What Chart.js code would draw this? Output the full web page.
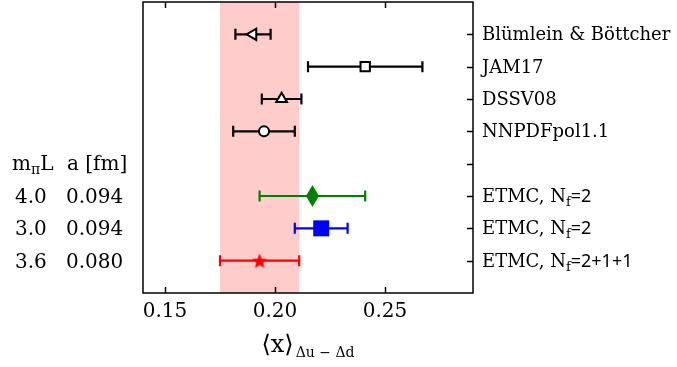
<!DOCTYPE html>
<html>
<head>
<meta charset="utf-8">
<script src="https://cdn.jsdelivr.net/npm/chart.js@4"></script>
<style>
  html, body { margin: 0; padding: 0; background: #fff; }
  #wrap { width: 677px; height: 367px; }
</style>
</head>
<body>
<div id="wrap"><canvas id="chart" width="677" height="367"></canvas></div>
<script>
// --- data ---
const rowLabels = ['Blümlein & Böttcher', 'JAM17', 'DSSV08', 'NNPDFpol1.1', '',
                   'ETMC, N_{f}^{=2}', 'ETMC, N_{f}^{=2}', 'ETMC, N_{f}^{=2+1+1}'];
const rowPos    = [1, 2, 3, 4, 6, 7, 8];
const rowNames  = ['Blümlein & Böttcher', 'JAM17', 'DSSV08', 'NNPDFpol1.1',
                   'ETMC Nf=2 (mpiL 4.0)', 'ETMC Nf=2 (mpiL 3.0)', 'ETMC Nf=2+1+1'];
const xValues   = [0.190, 0.241, 0.203, 0.195, 0.217, 0.221, 0.193];
const xErrors   = [0.008, 0.026, 0.009, 0.014, 0.024, 0.012, 0.018];
const xTicks    = [0.15, 0.20, 0.25];
const yTicks    = [1, 2, 3, 4, 5, 6, 7, 8];

// band = ETMC Nf=2+1+1 result
const bandLow  = 0.175;
const bandHigh = 0.211;

// lattice table on the left
const tableHead = ['m_{π}L', 'a [fm]'];
const mpiL      = ['4.0', '3.0', '3.6'];
const latA      = ['0.094', '0.094', '0.080'];

const FONT = '"DejaVu Serif", "Liberation Serif", serif';
const MATH = '"Noto Sans", "DejaVu Sans", sans-serif';

// --- custom marker images ---
function makeDiamond(w, h, color) {
    const c = document.createElement('canvas');
    c.width = w; c.height = h;
    const g = c.getContext('2d');
    g.fillStyle = color;
    g.beginPath();
    g.moveTo(w / 2, 0); g.lineTo(w, h / 2); g.lineTo(w / 2, h); g.lineTo(0, h / 2);
    g.closePath(); g.fill();
    return c;
}
function makeStar(size, color) {
    const c = document.createElement('canvas');
    c.width = size; c.height = size;
    const g = c.getContext('2d');
    const cx = size / 2, cy = size / 2 + 0.8, R = size / 2, r = R * 0.45;
    g.fillStyle = color;
    g.beginPath();
    for (let i = 0; i < 10; i++) {
        const ang = -Math.PI / 2 + i * Math.PI / 5;
        const rad = i % 2 === 0 ? R : r;
        g.lineTo(cx + rad * Math.cos(ang), cy + rad * Math.sin(ang));
    }
    g.closePath(); g.fill();
    return c;
}

const styles = [
    { color: '#000', style: 'triangle', rotation: -90, radius: 6.5, fill: '#fff', bw: 2 },
    { color: '#000', style: 'rect', rotation: 0, radius: 6.6, fill: '#fff', bw: 2 },
    { color: '#000', style: 'triangle', rotation: 0, radius: 6.2, fill: '#fff', bw: 2 },
    { color: '#000', style: 'circle', rotation: 0, radius: 5, fill: '#fff', bw: 2 },
    { color: '#008000', style: makeDiamond(13, 22, '#008000'), rotation: 0, radius: 8, fill: '#008000', bw: 0 },
    { color: '#0000ff', style: 'rect', rotation: 0, radius: 11.3, fill: '#0000ff', bw: 0 },
    { color: '#ff0000', style: makeStar(16, '#ff0000'), rotation: 0, radius: 8, fill: '#ff0000', bw: 0 },
];

const datasets = rowNames.map((name, i) => ({
    label: name,
    data: [{ x: xValues[i], y: rowPos[i], err: xErrors[i] }],
    pointStyle: styles[i].style,
    rotation: styles[i].rotation,
    pointRadius: styles[i].radius,
    pointBackgroundColor: styles[i].fill,
    pointBorderColor: styles[i].color,
    pointBorderWidth: styles[i].bw,
    errColor: styles[i].color,
}));

// text with _{sub} (subscript) and ^{...} (math-font) parts
function drawRich(ctx, str, x, y, size, subSize, subDrop) {
    const parts = [];
    const re = /([_^])\{([^}]*)\}/g;
    let last = 0, m;
    while ((m = re.exec(str)) !== null) {
        if (m.index > last) parts.push([str.slice(last, m.index), '']);
        parts.push([m[2], m[1]]);
        last = re.lastIndex;
    }
    if (last < str.length) parts.push([str.slice(last), '']);
    let cx = x;
    parts.forEach(([t, kind]) => {
        if (kind === '_') ctx.font = subSize + 'px ' + FONT;
        else if (kind === '^') ctx.font = size + 'px ' + MATH;
        else ctx.font = size + 'px ' + FONT;
        ctx.fillText(t, cx, kind === '_' ? y + subDrop : y);
        cx += ctx.measureText(t).width;
    });
}

const decor = {
    id: 'decor',
    beforeDatasetsDraw(chart) {
        const { ctx, chartArea: a, scales: { x, y } } = chart;
        ctx.save();
        // shaded band
        ctx.fillStyle = '#ffcccc';
        const b0 = x.getPixelForValue(bandLow), b1 = x.getPixelForValue(bandHigh);
        ctx.fillRect(b0, a.top, b1 - b0, a.bottom - a.top);
        // error bars
        ctx.lineWidth = 2.2;
        chart.data.datasets.forEach(ds => {
            const p = ds.data[0];
            const py = y.getPixelForValue(p.y);
            const l = x.getPixelForValue(p.x - p.err), r = x.getPixelForValue(p.x + p.err);
            ctx.strokeStyle = ds.errColor;
            ctx.beginPath();
            ctx.moveTo(l, py); ctx.lineTo(r, py);
            ctx.moveTo(l, py - 5.5); ctx.lineTo(l, py + 5.5);
            ctx.moveTo(r, py - 5.5); ctx.lineTo(r, py + 5.5);
            ctx.stroke();
        });
        ctx.restore();
    },
    afterDraw(chart) {
        const { ctx, chartArea: a, scales: { x, y } } = chart;
        ctx.save();
        ctx.strokeStyle = '#000';
        ctx.lineWidth = 1.5;
        ctx.strokeRect(a.left, a.top, a.right - a.left, a.bottom - a.top);
        // ticks, pointing inward
        ctx.beginPath();
        xTicks.forEach(t => {
            const px = Math.round(x.getPixelForValue(t)) + 0.5;
            ctx.moveTo(px, a.bottom); ctx.lineTo(px, a.bottom - 6);
            ctx.moveTo(px, a.top); ctx.lineTo(px, a.top + 6);
        });
        yTicks.forEach(t => {
            const py = Math.round(y.getPixelForValue(t)) + 0.5;
            ctx.moveTo(a.right, py); ctx.lineTo(a.right - 6, py);
        });
        ctx.stroke();

        ctx.fillStyle = '#000';
        ctx.textBaseline = 'alphabetic';
        // x tick labels
        ctx.font = '20px ' + FONT;
        ctx.textAlign = 'center';
        xTicks.forEach(t => ctx.fillText(t.toFixed(2), x.getPixelForValue(t), 317));

        // row labels on the right
        ctx.textAlign = 'left';
        rowLabels.forEach((lab, i) => {
            if (lab) drawRich(ctx, lab, a.right + 9, y.getPixelForValue(i + 1) + 6, 18, 13, 4);
        });

        // lattice table
        const hy = y.getPixelForValue(5) + 6;
        drawRich(ctx, tableHead[0], 12, hy, 20, 14, 4);
        drawRich(ctx, tableHead[1], 67, hy, 20, 14, 4);
        mpiL.forEach((v, i) => {
            const ry = y.getPixelForValue(6 + i) + 7;
            ctx.font = '20px ' + FONT;
            ctx.fillText(v, 15, ry);
            ctx.fillText(latA[i], 66, ry);
        });

        // x axis title <x>_{Δu-Δd}
        const mainF = '24px "DejaVu Serif", "DejaVu Sans", serif';
        const subF = '14px ' + FONT;
        const main = '⟨x⟩', sub = 'Δu − Δd';
        ctx.font = mainF; const w1 = ctx.measureText(main).width;
        ctx.font = subF; const w2 = ctx.measureText(sub).width;
        const sx = (a.left + a.right) / 2 - (w1 + w2 + 2) / 2;
        ctx.font = mainF; ctx.fillText(main, sx, 352);
        ctx.font = subF; ctx.fillText(sub, sx + w1 + 2, 357);
        ctx.restore();
    }
};

new Chart(document.getElementById('chart'), {
    type: 'scatter',
    data: { datasets },
    options: {
        responsive: false,
        animation: false,
        layout: { autoPadding: false, padding: { left: 143, right: 204, top: 2, bottom: 74 } },
        plugins: { legend: { display: false }, tooltip: { enabled: false } },
        scales: {
            x: { type: 'linear', min: 0.14, max: 0.29, display: false },
            y: { type: 'linear', min: 0, max: 9, reverse: true, display: false },
        },
    },
    plugins: [decor],
});
</script>
</body>
</html>
